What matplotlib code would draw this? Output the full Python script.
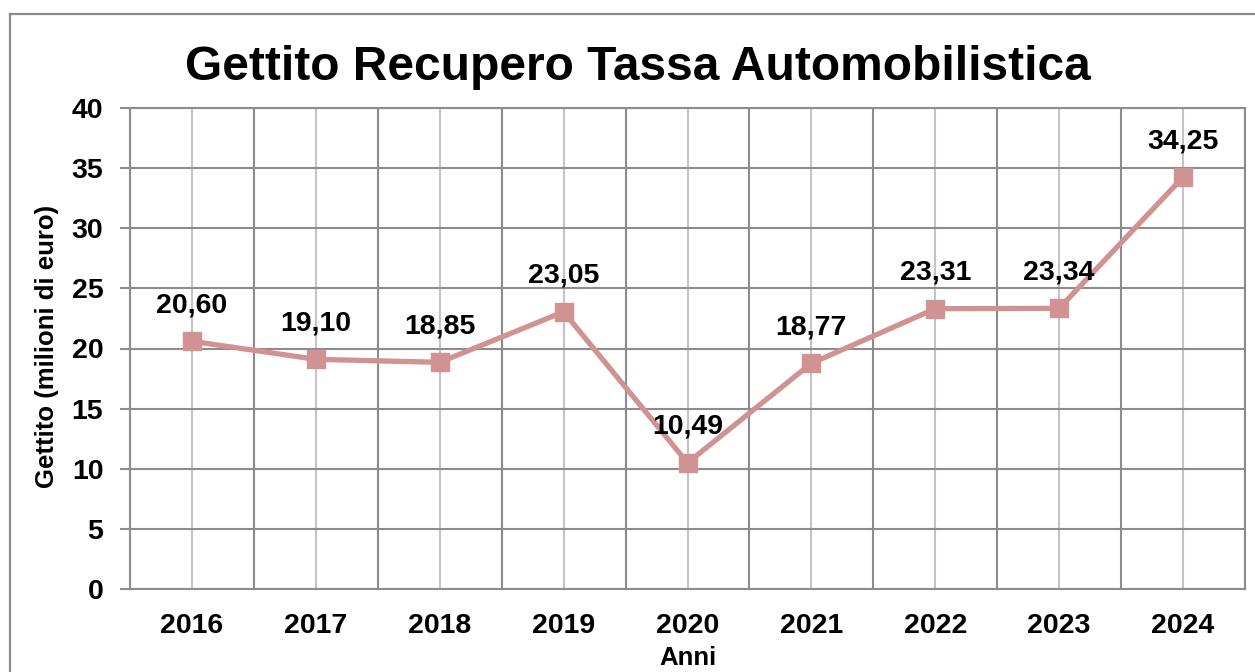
import matplotlib
matplotlib.use("Agg")
import matplotlib.pyplot as plt
from matplotlib.lines import Line2D
from matplotlib.ticker import FixedLocator, MultipleLocator

years = ["2016", "2017", "2018", "2019", "2020", "2021", "2022", "2023", "2024"]
revenue = [20.60, 19.10, 18.85, 23.05, 10.49, 18.77, 23.31, 23.34, 34.25]
value_labels = ["20,60", "19,10", "18,85", "23,05", "10,49", "18,77", "23,31", "23,34", "34,25"]

plt.rcParams["font.family"] = ["Liberation Sans", "DejaVu Sans"]
plt.rcParams["font.weight"] = "bold"

W, H = 1255, 672
fig = plt.figure(figsize=(W / 100, H / 100), dpi=100)
fig.patch.set_facecolor("white")

# outer chart frame (left and top edges visible)
frame_col = "#8c8c8c"
fig.add_artist(Line2D([9.5 / W, 9.5 / W], [0, 1 - 13.5 / H], transform=fig.transFigure,
                      color=frame_col, lw=1.6))
fig.add_artist(Line2D([9.5 / W, 1.0], [1 - 13.5 / H, 1 - 13.5 / H], transform=fig.transFigure,
                      color=frame_col, lw=1.6))

left, right, top, bottom = 130, 1245, 108, 589
ax = fig.add_axes([left / W, 1 - bottom / H, (right - left) / W, (bottom - top) / H])

x = list(range(len(years)))
line_col = "#d09292"
ax.plot(x, revenue, color=line_col, lw=3.8, marker="s", markersize=13.5,
        markerfacecolor=line_col, markeredgecolor=line_col, zorder=4, clip_on=False)

for xi, v, lab in zip(x, revenue, value_labels):
    ax.annotate(lab, (xi, v), xytext=(0, 26), textcoords="offset points",
                ha="center", va="center", fontsize=20.5, fontweight="bold", zorder=5)

ax.set_xlim(-0.5, len(years) - 0.5)
ax.set_ylim(0, 40)
ax.yaxis.set_major_locator(MultipleLocator(5))
ax.set_xticks(x)
ax.set_xticklabels(years)
ax.xaxis.set_minor_locator(FixedLocator([i - 0.5 for i in range(len(years) + 1)]))

# grid: darker lines on value steps and category borders, lighter at category centres
ax.grid(axis="y", which="major", color="#8c8c8c", lw=1.5)
ax.grid(axis="x", which="minor", color="#8c8c8c", lw=1.5)
ax.grid(axis="x", which="major", color="#c4c4c4", lw=1.5)
ax.set_axisbelow(True)

for s in ax.spines.values():
    s.set_color("#8c8c8c")
    s.set_linewidth(1.5)

ax.tick_params(axis="y", which="major", length=7.2, width=1.5, color="#8c8c8c",
               pad=12, labelsize=20.5)
ax.tick_params(axis="x", which="both", length=0, pad=17, labelsize=20.5)
for t in ax.get_xticklabels() + ax.get_yticklabels():
    t.set_fontweight("bold")

ax.set_ylabel("Gettito (milioni di euro)", fontsize=18.5, fontweight="bold")
ax.yaxis.label.set_va("center")
ax.yaxis.set_label_coords(-(left - 47) / (right - left), 0.5 + (589 - 346 - 240.5) / (bottom - top))
ax.set_xlabel("Anni", fontsize=18.5, fontweight="bold")
ax.xaxis.label.set_va("top")
ax.xaxis.set_label_coords(0.5, -(646 - bottom) / (bottom - top))

fig.text(638 / W, 1 - 80 / H, "Gettito Recupero Tassa Automobilistica", ha="center",
         va="baseline", fontsize=34.5, fontweight="bold")

fig.savefig("out.png", dpi=100)
